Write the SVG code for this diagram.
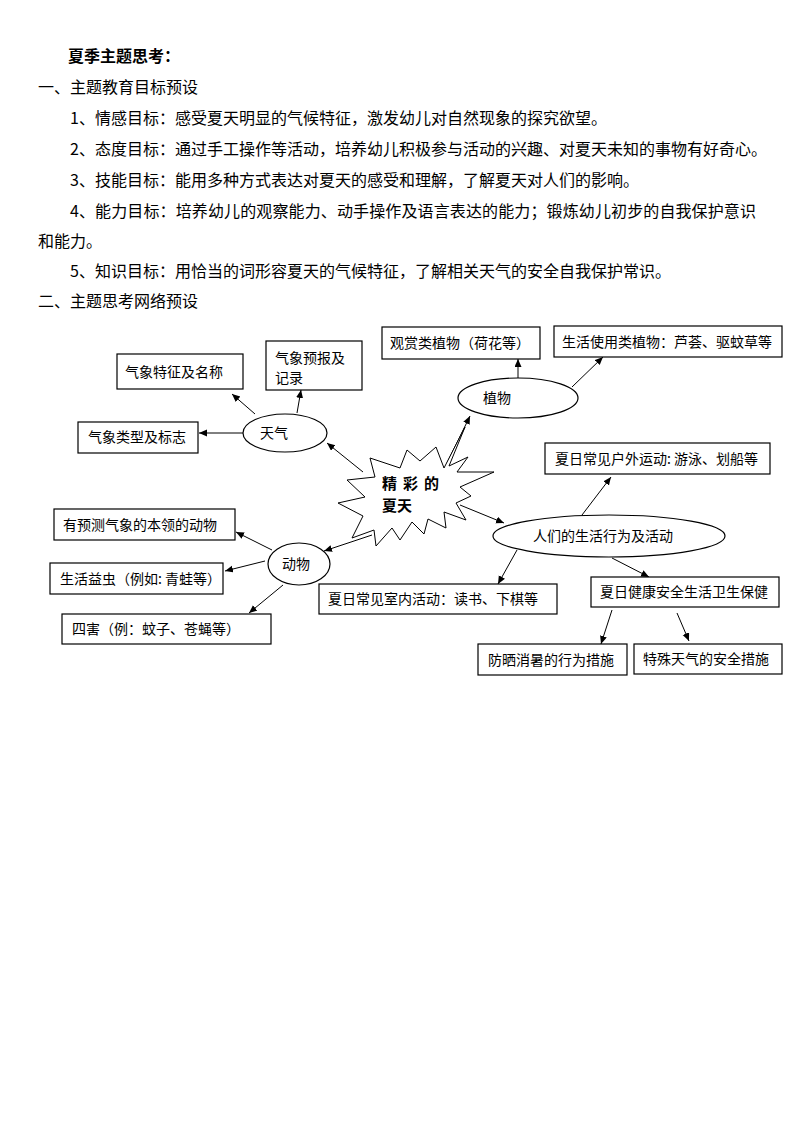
<svg xmlns="http://www.w3.org/2000/svg" width="794" height="1123" viewBox="0 0 794 1123">
<style>
.t{font-family:"Noto Sans CJK SC","Liberation Sans",sans-serif;font-size:16px;fill:#000}
.b{font-weight:bold}
.n{font-family:"Noto Sans CJK SC","Liberation Sans",sans-serif;font-size:14px;fill:#000}
.box{fill:#fff;stroke:#000;stroke-width:1.2}
.el{fill:#fff;stroke:#000;stroke-width:1.2}
.c line{stroke:#000;stroke-width:1;marker-end:url(#ah)}
</style>
<defs>
<marker id="ah" markerUnits="userSpaceOnUse" markerWidth="9" markerHeight="8" refX="8" refY="3.5" orient="auto">
<path d="M0,0 L8,3.5 L0,7 z" fill="#000"/>
</marker>
</defs>
<rect width="794" height="1123" fill="#fff"/>
<g id="body-text">
<text class="t b" x="68" y="62">夏季主题思考：</text>
<text class="t" x="38" y="93">一、主题教育目标预设</text>
<text class="t" x="70" y="124">1、情感目标：感受夏天明显的气候特征，激发幼儿对自然现象的探究欲望。</text>
<text class="t" x="70" y="155">2、态度目标：通过手工操作等活动，培养幼儿积极参与活动的兴趣、对夏天未知的事物有好奇心。</text>
<text class="t" x="70" y="186">3、技能目标：能用多种方式表达对夏天的感受和理解，了解夏天对人们的影响。</text>
<text class="t" x="70" y="217" textLength="686" lengthAdjust="spacing">4、能力目标：培养幼儿的观察能力、动手操作及语言表达的能力；锻炼幼儿初步的自我保护意识</text>
<text class="t" x="38" y="247">和能力。</text>
<text class="t" x="70" y="277">5、知识目标：用恰当的词形容夏天的气候特征，了解相关天气的安全自我保护常识。</text>
<text class="t" x="38" y="307">二、主题思考网络预设</text>
</g>
<g id="connectors" class="c">
<line x1="255" y1="414" x2="232" y2="394"/>
<line x1="297" y1="413" x2="301" y2="390"/>
<line x1="243" y1="433" x2="199" y2="433"/>
<line x1="363" y1="472" x2="327" y2="443"/>
<line x1="518" y1="378" x2="518" y2="359"/>
<line x1="572" y1="387" x2="603" y2="357"/>
<line x1="447" y1="463" x2="470" y2="416"/>
<line x1="460" y1="505" x2="504" y2="523"/>
<line x1="582" y1="515" x2="611" y2="477"/>
<line x1="517" y1="550" x2="498" y2="584"/>
<line x1="612" y1="558" x2="649" y2="577"/>
<line x1="612" y1="610" x2="601" y2="644"/>
<line x1="677" y1="613" x2="689" y2="641"/>
<line x1="372" y1="535" x2="324" y2="551"/>
<line x1="272" y1="550" x2="236" y2="532"/>
<line x1="265" y1="561" x2="225" y2="571"/>
<line x1="283" y1="585" x2="249" y2="613"/>
</g>
<g id="node-star">
<polygon fill="#fff" stroke="#000" stroke-width="1" points="370,458 400,468 407,450 420,461 436,447 444,468 465,427 449,466 468,457 457,472 494,472 460,487 471,496 456,503 466,520 444,512 446,528 428,519 424,534 412,522 400,540 392,528 376,546 374,530 352,538 363,516 338,503 365,497 347,480 375,477"/>
<text class="n b" x="382" y="489" style="font-size:15px" letter-spacing="6">精彩的</text>
<text class="n b" x="382" y="511" style="font-size:15px">夏天</text>
</g>
<g id="node-weather">
<ellipse class="el" cx="285" cy="433" rx="42" ry="19"/>
<text class="n" x="260" y="438">天气</text>
</g>
<g id="node-weather-feature">
<rect class="box" x="117" y="354" width="126" height="35"/>
<text class="n" x="125" y="377">气象特征及名称</text>
</g>
<g id="node-weather-forecast">
<rect class="box" x="266" y="341" width="96" height="49"/>
<text class="n" x="275" y="363">气象预报及</text>
<text class="n" x="275" y="383">记录</text>
</g>
<g id="node-weather-type">
<rect class="box" x="78" y="422" width="120" height="31"/>
<text class="n" x="88" y="442">气象类型及标志</text>
</g>
<g id="node-plant">
<ellipse class="el" cx="518" cy="398" rx="60" ry="20"/>
<text class="n" x="483" y="403">植物</text>
</g>
<g id="node-plant-view">
<rect class="box" x="382" y="327" width="158" height="32"/>
<text class="n" x="390" y="348">观赏类植物（荷花等）</text>
</g>
<g id="node-plant-use">
<rect class="box" x="554" y="326" width="228" height="31"/>
<text class="n" x="562" y="347">生活使用类植物：芦荟、驱蚊草等</text>
</g>
<g id="node-people">
<ellipse class="el" cx="609" cy="536" rx="116" ry="21"/>
<text class="n" x="533" y="541">人们的生活行为及活动</text>
</g>
<g id="node-outdoor">
<rect class="box" x="545" y="443" width="225" height="31"/>
<text class="n" x="555" y="464">夏日常见户外运动: 游泳、划船等</text>
</g>
<g id="node-indoor">
<rect class="box" x="319" y="584" width="238" height="30"/>
<text class="n" x="328" y="604">夏日常见室内活动：读书、下棋等</text>
</g>
<g id="node-health">
<rect class="box" x="591" y="577" width="188" height="30"/>
<text class="n" x="600" y="597">夏日健康安全生活卫生保健</text>
</g>
<g id="node-sun">
<rect class="box" x="478" y="644" width="149" height="31"/>
<text class="n" x="488" y="665">防晒消暑的行为措施</text>
</g>
<g id="node-special">
<rect class="box" x="634" y="644" width="148" height="30"/>
<text class="n" x="643" y="664">特殊天气的安全措施</text>
</g>
<g id="node-animal">
<ellipse class="el" cx="299" cy="564" rx="31" ry="21"/>
<text class="n" x="282" y="569">动物</text>
</g>
<g id="node-animal-predict">
<rect class="box" x="54" y="509" width="181" height="31"/>
<text class="n" x="63" y="530">有预测气象的本领的动物</text>
</g>
<g id="node-animal-useful">
<rect class="box" x="50" y="563" width="173" height="31"/>
<text class="n" x="60" y="584">生活益虫（例如: 青蛙等）</text>
</g>
<g id="node-animal-pest">
<rect class="box" x="62" y="614" width="209" height="30"/>
<text class="n" x="72" y="634">四害（例：蚊子、苍蝇等）</text>
</g>
</svg>
